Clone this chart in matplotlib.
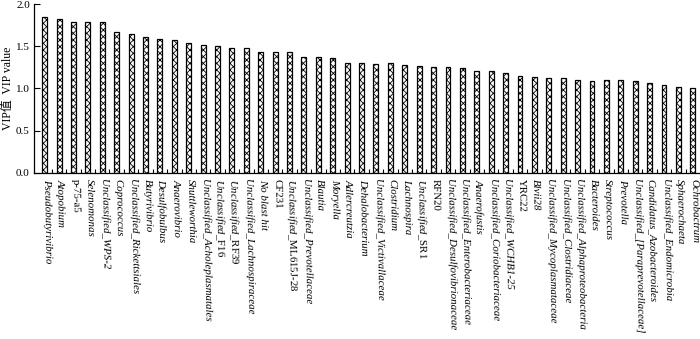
import matplotlib
matplotlib.use("Agg")
import matplotlib.pyplot as plt
import numpy as np

# ---- data ----
taxa = [
    "Pseudobutyrivibrio", "Atopobium", "p-75-a5", "Selenomonas", "Unclassified_WPS-2",
    "Coprococcus", "Unclassified_Rickettsiales", "Butyrivibrio", "Desulfobulbus", "Anaerovibrio",
    "Shuttleworthia", "Unclassified_Acholeplasmatales", "Unclassified_F16", "Unclassified_RF39",
    "Unclassified_Lachnospiraceae", "No blast hit", "CF231", "Unclassified_ML615J-28",
    "Unclassified_Prevotellaceae", "Blautia", "Moryella", "Adlercreutzia", "Dehalobacterium",
    "Unclassified_Victivallaceae", "Clostridium", "Lachnospira", "Unclassified_SR1", "RFN20",
    "Unclassified_Desulfovibrionaceae", "Unclassified_Enterobacteriaceae", "Anaerofustis",
    "Unclassified_Coriobacteriaceae", "Unclassified_WCHB1-25", "YRC22", "Blvii28",
    "Unclassified_Mycoplasmataceae", "Unclassified_Clostridiaceae",
    "Unclassified_Alphaproteobacteria", "Bacteroides", "Streptococcus", "Prevotella",
    "Unclassified_[Paraprevotellaceae]", "Candidatus_Azobacteroides", "Unclassified_Endomicrobia",
    "Sphaerochaeta", "Ochrobactrum",
]
vip = [
    1.842, 1.818, 1.787, 1.783, 1.787, 1.664, 1.648, 1.613, 1.585, 1.569,
    1.538, 1.510, 1.498, 1.478, 1.478, 1.435, 1.427, 1.427, 1.375, 1.372,
    1.360, 1.304, 1.296, 1.292, 1.296, 1.273, 1.269, 1.257, 1.249, 1.241,
    1.206, 1.202, 1.178, 1.150, 1.138, 1.126, 1.119, 1.099, 1.091, 1.095,
    1.095, 1.083, 1.059, 1.036, 1.012, 1.008,
]
yticks = [0.0, 0.5, 1.0, 1.5, 2.0]
ylabel = "VIP值  VIP value"

# ---- style ----
plt.rcParams['font.family'] = ['Liberation Serif', 'Noto Sans CJK SC', 'DejaVu Sans']
plt.rcParams['mathtext.fontset'] = 'custom'
plt.rcParams['mathtext.rm'] = 'Liberation Serif'
plt.rcParams['mathtext.it'] = 'Liberation Serif:italic'
plt.rcParams['hatch.linewidth'] = 0.6

upright_full = {"p-75-a5", "CF231", "RFN20", "YRC22"}
upright_suffix = {"RF39", "F16", "ML615J-28", "SR1"}


def fmt(name):
    if name in upright_full:
        return name, 'normal'
    if name.startswith("Unclassified_"):
        suf = name[len("Unclassified_"):]
        if suf in upright_suffix:
            return r"$\mathit{Unclassified}$_" + suf, 'normal'
    return name, 'italic'


fig = plt.figure(figsize=(7.0, 3.39), dpi=100)
ax = fig.add_axes([0.0486, 0.4906, 0.9514, 0.4976])

x = np.arange(len(taxa))
ax.bar(x, vip, width=0.34, facecolor='white', edgecolor='black',
       linewidth=0.9, hatch='xxxxx')

ax.set_xlim(-0.74, len(taxa) - 0.5)
ax.set_ylim(0, 2.0)
ax.set_yticks(yticks)
ax.set_yticklabels([f"{v:.1f}" for v in yticks], fontsize=8)
ax.tick_params(axis='y', direction='in', length=4, width=0.8, pad=3)

ax.set_xticks(x)
ax.set_xticklabels([])
ax.tick_params(axis='x', which='major', length=0)
ax.set_xticks(x[:-1] + 0.5, minor=True)
ax.tick_params(axis='x', which='minor', direction='in', length=3, width=0.8)

for xi, name in zip(x, taxa):
    label, style = fmt(name)
    ax.text(xi + 0.1, -0.07, label, rotation=-89, rotation_mode='anchor',
            ha='left', va='center', fontsize=7.8, fontstyle=style,
            transform=ax.transData, clip_on=False)

ax.spines['top'].set_visible(False)
ax.spines['right'].set_visible(False)
ax.spines['left'].set_linewidth(0.9)
ax.spines['bottom'].set_linewidth(0.9)

ax.set_ylabel(ylabel, fontsize=8.5)
ax.yaxis.set_label_coords(-0.0305, 0.5)

fig.savefig("out.png", dpi=100)
